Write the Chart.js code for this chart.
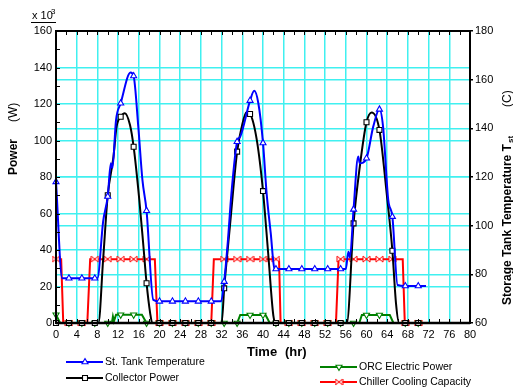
<!DOCTYPE html>
<html>
<head>
<meta charset="utf-8">
<script src="https://cdn.jsdelivr.net/npm/chart.js@4.4.0/dist/chart.umd.min.js"></script>
<style>
  html, body { margin: 0; padding: 0; background: #fff; }
</style>
</head>
<body>
<canvas id="chart" width="513" height="390"></canvas>
<script>
// values, time in hours
const tankTime = [0, 1.2, 2.5, 5, 7.5, 8, 9.1, 10, 10.6, 10.9, 11.6, 12.5, 14.4, 15, 15.9, 16.7, 17.5, 18.8,
  20, 22.5, 25, 27.5, 30, 31.9, 32.5, 33.2, 33.9, 35, 35.6, 37.5, 38.3, 39.1, 40, 40.7, 41.5, 42.2,
  42.5, 45, 47.5, 50, 52.5, 55, 56, 56.5, 56.8, 57.5, 58.4, 58.7, 60, 61.3, 62.5, 63.2, 64.2, 65,
  66, 67.5, 70, 71.5];
const tankTemp = [118, 78.4, 78.4, 78.4, 78.4, 78.4, 101.6, 112, 125.6, 123.6, 143.4, 150.3, 162.9, 161.5, 140.7, 118.8, 106.1, 69.5,
  68.9, 68.9, 68.9, 68.9, 68.9, 68.9, 77, 93.4, 113.3, 134.5, 136.6, 151.4, 155.4, 150.3, 134, 113.3, 96.8, 82.5,
  82.2, 82.2, 82.2, 82.2, 82.2, 82.2, 82.2, 89.3, 87, 106.7, 128.4, 125.6, 127.7, 140.7, 147.8, 140.7, 110.6, 103.7,
  75.6, 75.2, 75.2, 75.2];

const collTime = [0, 2.5, 5, 7.5, 8.2, 9.1, 10, 11.1, 11.7, 12.5, 13.3, 14.3, 15, 16.1, 16.9, 17.5, 18.2, 18.6,
  20, 22.5, 25, 27.5, 30, 32, 32.5, 33.6, 35, 35.9, 36.8, 37.5, 38.8, 40, 41, 42, 42.5,
  45, 47.5, 50, 52.5, 55, 56.2, 57.5, 58.7, 60, 61, 62.5, 63.9, 65, 65.7, 66.3, 67.5, 70];
const collPower = [0, 0, 0, 0, 0, 34.5, 70, 91, 107.5, 113, 115, 108.5, 96.6, 67.4, 41.8, 21.8, 5.3, 0,
  0, 0, 0, 0, 0, 0, 19, 52.8, 93.9, 107.6, 115.5, 114.5, 100.3, 72.3, 38.2, 4, 0,
  0, 0, 0, 0, 0, 0, 54.6, 85.6, 110, 115.4, 105.8, 71, 39.6, 10.8, 0, 0, 0];

const orcTime = [0, 0.8, 2.5, 5, 7.5, 10, 10.8, 11, 11.2, 11.6, 12.5, 15, 16.6, 17.5, 20, 22.5, 25, 27.5, 30, 32.5,
  35, 35.6, 37.5, 40, 40.5, 41.3, 42.5, 45, 47.5, 50, 52.5, 55, 57.5, 58.6, 59.1, 60, 62.5, 64.5, 65.2, 67.5, 70];
const orcPower = [4.5, 0, 0, 0, 0, 0, 0, 3.5, 1, 4.5, 4.5, 4.5, 4.5, 0, 0, 0, 0, 0, 0, 0,
  0, 4.4, 4.4, 4.4, 4.4, 0, 0, 0, 0, 0, 0, 0, 0, 0, 4.4, 4.4, 4.4, 4.4, 0, 0, 0];

const chillTime = [0, 1, 1.4, 2.5, 5, 6.05, 6.6, 7.5, 10, 12.5, 15, 17.5, 19.1, 19.6, 20, 22.5, 25, 27.5, 30, 30.5,
  32.5, 35, 37.5, 40, 42.5, 43.1, 43.4, 45, 47.5, 50, 52.5, 54.1, 54.6, 55, 57.5, 60, 62.5, 65, 67, 67.4, 67.5, 70];
const chillPower = [35, 35, 0, 0, 0, 0, 35, 35, 35, 35, 35, 35, 35, 0, 0, 0, 0, 0, 0, 35,
  35, 35, 35, 35, 35, 35, 0, 0, 0, 0, 0, 0, 35, 35, 35, 35, 35, 35, 35, 0, 0, 0];

const xTicks = [0, 80, 4];        // min, max, step
const powerTicks = [0, 160, 20];
const tempTicks = [60, 180, 20];

const GRID = 'rgb(64,240,240)';

// pair up time / value arrays
const pts = (t, v) => t.map((x, i) => ({ x: x, y: v[i] }));
// symbols sit every 2.5 hr along each curve
const onMark = t => Math.abs(t / 2.5 - Math.round(t / 2.5)) < 1e-6;
const markRadius = ctx => (ctx.raw && onMark(ctx.raw.x)) ? 3.5 : 0;

// red bow-tie symbol
function bowTie() {
    const c = document.createElement('canvas');
    c.width = 9; c.height = 8;
    const g = c.getContext('2d');
    g.fillStyle = '#fff';
    g.strokeStyle = '#ff0000';
    g.lineWidth = 1;
    g.beginPath();
    g.moveTo(1, 1); g.lineTo(4.5, 4); g.lineTo(1, 7); g.closePath();
    g.moveTo(8, 1); g.lineTo(4.5, 4); g.lineTo(8, 7); g.closePath();
    g.fill(); g.stroke();
    return c;
}
const bowImg = bowTie();

const datasets = [{
    label: 'St. Tank Temperature',
    data: pts(tankTime, tankTemp),
    yAxisID: 'y1',
    borderColor: '#0000ff',
    pointStyle: 'triangle',
    pointRotation: 0,
    cubicInterpolationMode: 'monotone',
    tension: 0.4,
    legendAt: [66, 362]
}, {
    label: 'Collector Power',
    data: pts(collTime, collPower),
    yAxisID: 'y',
    borderColor: '#000000',
    pointStyle: 'rect',
    pointRotation: 0,
    cubicInterpolationMode: 'monotone',
    tension: 0.4,
    legendAt: [66, 378]
}, {
    label: 'ORC Electric Power',
    data: pts(orcTime, orcPower),
    yAxisID: 'y',
    borderColor: '#008000',
    pointStyle: 'triangle',
    pointRotation: 180,
    tension: 0,
    legendAt: [320, 367]
}, {
    label: 'Chiller Cooling Capacity',
    data: pts(chillTime, chillPower),
    yAxisID: 'y',
    borderColor: '#ff0000',
    pointStyle: bowImg,
    pointRotation: 0,
    tension: 0,
    legendAt: [320, 382]
}];

datasets.forEach(d => {
    d.borderWidth = 2;
    d.pointBorderColor = d.borderColor;
    d.pointBackgroundColor = '#ffffff';
    d.pointBorderWidth = 1.1;
    d.pointRadius = markRadius;
    d.fill = false;
    d.clip = false;
});

// frame, inward ticks, axis titles and the two-column legend
const decorations = {
    id: 'decorations',
    afterDraw(chart) {
        const ctx = chart.ctx;
        const a = chart.chartArea;
        const xs = chart.scales.x, ys = chart.scales.y;
        ctx.save();

        // inward minor ticks
        ctx.strokeStyle = '#000';
        ctx.lineWidth = 1;
        ctx.beginPath();
        for (let t = 2; t < 80; t += 2) {
            const px = Math.round(xs.getPixelForValue(t)) + 0.5;
            ctx.moveTo(px, a.top); ctx.lineTo(px, a.top + 4);
            ctx.moveTo(px, a.bottom); ctx.lineTo(px, a.bottom - 4);
        }
        for (let v = 10; v < 160; v += 10) {
            const py = Math.round(ys.getPixelForValue(v)) + 0.5;
            ctx.moveTo(a.left, py); ctx.lineTo(a.left + 4, py);
        }
        ctx.stroke();

        // frame
        ctx.lineWidth = 2;
        ctx.strokeRect(a.left, a.top, a.right - a.left, a.bottom - a.top);
        ctx.lineWidth = 2.5;
        ctx.beginPath();
        ctx.moveTo(a.left, a.bottom); ctx.lineTo(a.right, a.bottom);
        ctx.stroke();

        ctx.fillStyle = '#000';
        ctx.textBaseline = 'middle';
        ctx.textAlign = 'left';

        // x 10^3 multiplier
        ctx.font = '11px "Liberation Sans", Arial, sans-serif';
        ctx.fillText('x 10', 32, 16);
        ctx.font = '8px "Liberation Sans", Arial, sans-serif';
        ctx.fillText('3', 51, 12);
        ctx.lineWidth = 1;
        ctx.beginPath();
        ctx.moveTo(31, 22.5); ctx.lineTo(56, 22.5);
        ctx.stroke();

        // x title
        ctx.font = 'bold 13px "Liberation Sans", Arial, sans-serif';
        ctx.fillText('Time', 247, 352);
        ctx.fillText('(hr)', 285, 352);

        // left title
        ctx.save();
        ctx.translate(14, 175);
        ctx.rotate(-Math.PI / 2);
        ctx.font = 'bold 12px "Liberation Sans", Arial, sans-serif';
        ctx.fillText('Power', 0, 0);
        ctx.font = '12px "Liberation Sans", Arial, sans-serif';
        ctx.fillText('(W)', 53, 0);
        ctx.restore();

        // right title
        ctx.save();
        ctx.translate(508, 305);
        ctx.rotate(-Math.PI / 2);
        ctx.font = 'bold 12px "Liberation Sans", Arial, sans-serif';
        const main = 'Storage Tank Temperature T';
        ctx.fillText(main, 0, 0);
        const w = ctx.measureText(main).width;
        ctx.font = 'bold 8px "Liberation Sans", Arial, sans-serif';
        ctx.fillText('st', w + 1, 3);
        ctx.font = '12px "Liberation Sans", Arial, sans-serif';
        ctx.fillText('(C)', 198, 0);
        ctx.restore();

        // legend
        ctx.font = '10.5px "Liberation Sans", Arial, sans-serif';
        chart.data.datasets.forEach(d => {
            const [lx, ly] = d.legendAt;
            ctx.strokeStyle = d.borderColor;
            ctx.lineWidth = 2;
            ctx.beginPath();
            ctx.moveTo(lx, ly); ctx.lineTo(lx + 37, ly);
            ctx.stroke();
            ctx.strokeStyle = d.borderColor;
            ctx.fillStyle = '#fff';
            ctx.lineWidth = 1.1;
            Chart.helpers.drawPoint(ctx, {
                pointStyle: d.pointStyle, rotation: d.pointRotation,
                radius: 3.5, borderWidth: 1.1
            }, lx + 19, ly);
            ctx.fillStyle = '#000';
            ctx.fillText(d.label, lx + 39, ly);
        });

        ctx.restore();
    }
};

const tickFont = { family: '"Liberation Sans", Arial, sans-serif', size: 11 };

new Chart(document.getElementById('chart'), {
    type: 'line',
    data: { datasets: datasets },
    options: {
        responsive: false,
        animation: false,
        devicePixelRatio: 1,
        layout: { padding: { top: 31, left: 0, right: 0, bottom: 0 } },
        plugins: { legend: { display: false }, tooltip: { enabled: false } },
        scales: {
            x: {
                type: 'linear',
                min: xTicks[0], max: xTicks[1],
                ticks: { stepSize: xTicks[2], color: '#000', font: tickFont, padding: 5, maxRotation: 0, autoSkip: false },
                grid: { color: GRID, lineWidth: 1.5, drawTicks: false },
                border: { display: false },
                afterFit: s => { s.height = 67; }
            },
            y: {
                position: 'left',
                min: powerTicks[0], max: powerTicks[1],
                ticks: { stepSize: powerTicks[2], color: '#000', font: tickFont, padding: 4 },
                grid: { color: GRID, lineWidth: 1.5, drawTicks: false },
                border: { display: false },
                afterFit: s => { s.width = 56; }
            },
            y1: {
                position: 'right',
                min: tempTicks[0], max: tempTicks[1],
                ticks: { stepSize: tempTicks[2], color: '#000', font: tickFont, padding: 2 },
                grid: { color: GRID, lineWidth: 1.5, drawTicks: true, tickLength: 3, tickColor: '#000' },
                border: { display: false },
                afterFit: s => { s.width = 43; }
            }
        }
    },
    plugins: [decorations]
});
</script>
</body>
</html>
